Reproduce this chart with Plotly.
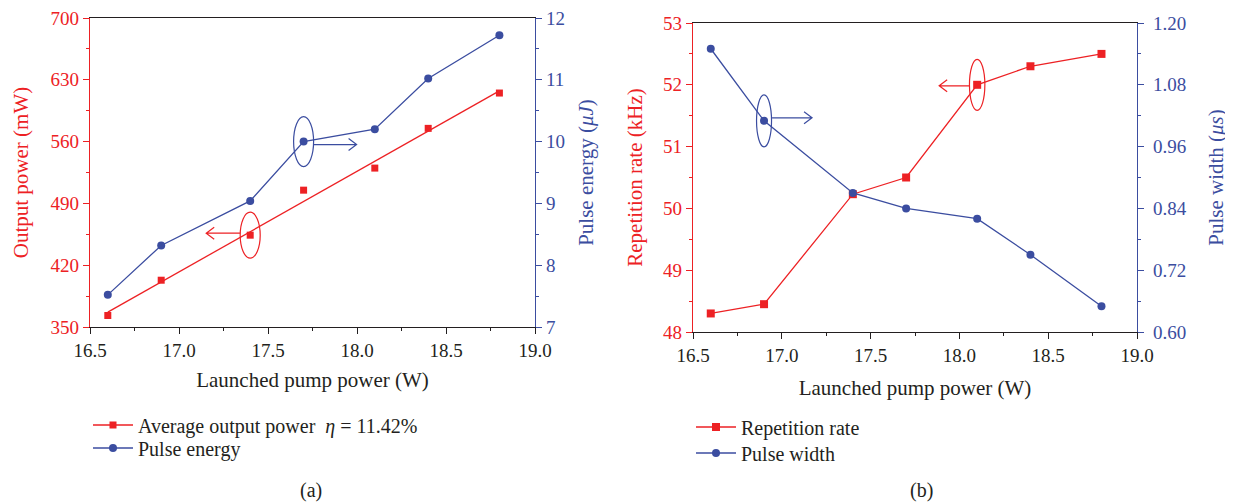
import plotly.graph_objects as go

# ---------------- data ----------------
pump_power = [16.6, 16.9, 17.4, 17.7, 18.1, 18.4, 18.8]
output_power = [363, 403, 454, 505, 530, 575, 615]          # mW
pulse_energy = [7.52, 8.32, 9.04, 10.0, 10.2, 11.02, 11.72]  # uJ
rep_rate = [48.3, 48.45, 50.23, 50.5, 52.0, 52.3, 52.5]      # kHz
pulse_width = [1.15, 1.01, 0.87, 0.84, 0.82, 0.75, 0.65]     # us

x_ticks = [16.5, 17.0, 17.5, 18.0, 18.5, 19.0]

RED = "#ED2124"
BLUE = "#3B4DA0"
DARK = "#231F20"
FONT = "Liberation Serif, DejaVu Serif, serif"
TS = 19      # tick font
TT = 21      # axis title font
LS = 20      # legend font

# page body has an 8px margin; positions below are given in screenshot pixels
OFF = 8

# linear fit for output power
n = len(pump_power)
mx = sum(pump_power) / n
my = sum(output_power) / n
slope = sum((a - mx) * (b - my) for a, b in zip(pump_power, output_power)) / sum((a - mx) ** 2 for a in pump_power)
fit_y = [my + slope * (a - mx) for a in pump_power]

fig = go.Figure()

# ---- (a) ----
fig.add_trace(go.Scatter(x=pump_power, y=fit_y, mode="lines", line=dict(color=RED, width=1.3),
                         xaxis="x", yaxis="y", showlegend=False, hoverinfo="skip"))
fig.add_trace(go.Scatter(x=pump_power, y=output_power, mode="markers",
                         marker=dict(symbol="square", size=7, color=RED),
                         xaxis="x", yaxis="y", showlegend=False))
fig.add_trace(go.Scatter(x=[None], y=[None], mode="lines+markers", name="Average output power  <i>η</i> = 11.42%",
                         line=dict(color=RED, width=1.3), marker=dict(symbol="square", size=7, color=RED),
                         xaxis="x", yaxis="y", legend="legend"))
fig.add_trace(go.Scatter(x=pump_power, y=pulse_energy, mode="lines+markers", name="Pulse energy",
                         line=dict(color=BLUE, width=1.3), marker=dict(symbol="circle", size=8, color=BLUE),
                         xaxis="x", yaxis="y2", legend="legend2"))

# ---- (b) ----
fig.add_trace(go.Scatter(x=pump_power, y=rep_rate, mode="lines+markers", name="Repetition rate",
                         line=dict(color=RED, width=1.3), marker=dict(symbol="square", size=8, color=RED),
                         xaxis="x2", yaxis="y3", legend="legend3"))
fig.add_trace(go.Scatter(x=pump_power, y=pulse_width, mode="lines+markers", name="Pulse width",
                         line=dict(color=BLUE, width=1.3), marker=dict(symbol="circle", size=8, color=BLUE),
                         xaxis="x2", yaxis="y4", legend="legend4"))

W, H = 1233, 504


def px(v):
    return (v - OFF) / W


def py(v):
    return 1 - (v - OFF) / H


def xdom(a, b):
    return [px(a), px(b)]


def ydom(top, bottom):
    return [py(bottom), py(top)]


def xaxis_cfg(dom, anchor, standoff):
    return dict(domain=dom, anchor=anchor, range=[16.5, 19.0], tickvals=x_ticks,
                ticktext=[f"{v:.1f}" for v in x_ticks], ticks="outside", ticklen=6, tickwidth=1,
                tickcolor=DARK, showline=True, linecolor=DARK, linewidth=1, mirror=True,
                showgrid=False, zeroline=False, tickfont=dict(family=FONT, size=TS, color=DARK),
                minor=dict(dtick=0.25, tick0=16.5, ticks="outside", ticklen=3, tickcolor=DARK),
                title=dict(text="Launched pump power (W)", font=dict(family=FONT, size=TT, color=DARK),
                           standoff=standoff),
                ticklabeloverflow="allow", automargin=False)


def yaxis_cfg(dom, anchor, rng, dtick, minor, color, title, side="left", overlay=None, fmt=None,
              standoff=10, labstand=0):
    d = dict(domain=dom, anchor=anchor, range=rng, dtick=dtick, tick0=rng[0], ticks="outside", ticklen=6,
             tickwidth=1, tickcolor=color, showline=True, linecolor=color, linewidth=1.2,
             showgrid=False, zeroline=False, side=side, tickfont=dict(family=FONT, size=TS, color=color),
             minor=dict(dtick=minor, tick0=rng[0], ticks="outside", ticklen=3, tickcolor=color),
             title=dict(text=title, font=dict(family=FONT, size=TT, color=color), standoff=standoff),
             ticklabeloverflow="allow", ticklabelstandoff=labstand, automargin=False)
    if overlay:
        d["overlaying"] = overlay
    if fmt:
        d["tickformat"] = fmt
    return d


domA = xdom(90, 535)
domB = xdom(693, 1137)
ydA = ydom(18, 327)
ydB = ydom(23, 332)


def legend_cfg(x, y):
    return dict(x=px(x), y=py(y), xanchor="left", yanchor="middle", bgcolor="rgba(0,0,0,0)",
                font=dict(family=FONT, size=LS, color=DARK), itemwidth=40, tracegroupgap=0)


fig.update_layout(
    width=W, height=H, autosize=False,
    margin=dict(l=0, r=0, t=0, b=0),
    paper_bgcolor="white", plot_bgcolor="white",
    font=dict(family=FONT, size=TS, color=DARK),
    xaxis=xaxis_cfg(domA, "y", 12),
    yaxis=yaxis_cfg(ydA, "x", [350, 700], 70, 35, RED, "Output power (mW)", standoff=16),
    yaxis2=yaxis_cfg(ydA, "x", [7, 12], 1, 0.5, BLUE, "Pulse energy (<i>μJ</i>)", side="right", overlay="y",
                     standoff=14),
    xaxis2=xaxis_cfg(domB, "y3", 15),
    yaxis3=yaxis_cfg(ydB, "x2", [48, 53], 1, 0.5, RED, "Repetition rate (kHz)", standoff=14),
    yaxis4=yaxis_cfg(ydB, "x2", [0.6, 1.2], 0.12, 0.06, BLUE, "Pulse width (<i>μs</i>)", side="right",
                     overlay="y3", fmt=".2f", standoff=22, labstand=5),
    legend=legend_cfg(88, 425),
    legend2=legend_cfg(88, 448),
    legend3=legend_cfg(691, 427),
    legend4=legend_cfg(691, 453),
    showlegend=True,
)


def ellipse(xa, ya, xv, yv, hw, hh, color):
    fig.add_shape(type="circle", xref=xa, yref=ya, xsizemode="pixel", ysizemode="pixel",
                  xanchor=xv, yanchor=yv, x0=-hw, x1=hw, y0=-hh, y1=hh,
                  line=dict(color=color, width=1.2), fillcolor="rgba(0,0,0,0)")


def arrow(xa, ya, xv, yv, start, end, dy, color):
    s = 1 if end > start else -1
    path = (f"M {start} {dy} L {end} {dy} M {end - s * 8} {dy + 6} L {end} {dy} L {end - s * 8} {dy - 6}")
    fig.add_shape(type="path", xref=xa, yref=ya, xsizemode="pixel", ysizemode="pixel",
                  xanchor=xv, yanchor=yv, path=path, line=dict(color=color, width=1.2))


ellipse("x", "y", pump_power[2], output_power[2], 10, 23, RED)
arrow("x", "y", pump_power[2], output_power[2], -10, -44, 2, RED)
ellipse("x", "y2", pump_power[3], pulse_energy[3], 10, 25, BLUE)
arrow("x", "y2", pump_power[3], pulse_energy[3], 10, 53, -3, BLUE)
ellipse("x2", "y4", pump_power[1], pulse_width[1], 7.5, 26, BLUE)
arrow("x2", "y4", pump_power[1], pulse_width[1], 8, 48, 3, BLUE)
ellipse("x2", "y3", pump_power[4], rep_rate[4], 7.7, 25.5, RED)
arrow("x2", "y3", pump_power[4], rep_rate[4], -8, -38, -1, RED)

fig.add_annotation(text="(a)", x=px(311), y=py(490), xref="paper", yref="paper", showarrow=False,
                   xanchor="center", yanchor="middle", font=dict(family=FONT, size=LS, color=DARK))
fig.add_annotation(text="(b)", x=px(922), y=py(490), xref="paper", yref="paper", showarrow=False,
                   xanchor="center", yanchor="middle", font=dict(family=FONT, size=LS, color=DARK))

fig.write_html("out.html")
